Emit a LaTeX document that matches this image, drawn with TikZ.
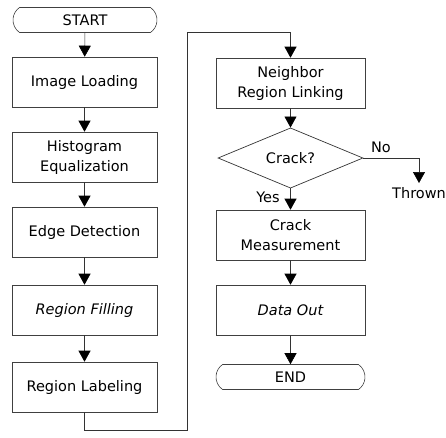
\documentclass[tikz,border=0pt]{standalone}
\usepackage{fontspec}
\setmainfont{DejaVu Sans}
\usetikzlibrary{arrows.meta,shapes.geometric,shapes.misc}
\begin{document}
\begin{tikzpicture}[x=1pt,y=-1pt,
  every node/.style={font=\fontsize{14.5}{20}\selectfont, inner sep=0pt, align=center},
  proc/.style={draw=black!75, line width=0.6pt, minimum width=145pt, minimum height=50pt},
  procr/.style={proc, minimum width=149pt},
  term/.style={draw=black!75, line width=0.6pt, rounded rectangle, rounded rectangle arc length=110, minimum height=25pt},
  dec/.style={draw=black!80, line width=0.7pt, diamond, minimum width=145pt, minimum height=50pt},
  flow/.style={draw=black!80, line width=0.6pt, -{Triangle[width=12pt,length=11pt,black]}},
  plain/.style={draw=black!80, line width=0.6pt}
]
\useasboundingbox (0,0) rectangle (446,437);
% left column
\node[term, minimum width=144pt] (start) at (85,20) {START};
\node[proc] (il) at (84.5,82) {Image Loading};
\node[proc] (he) at (84.5,157) {Histogram\\Equalization};
\node[proc] (ed) at (84.5,232) {Edge Detection};
\node[proc] (rf) at (84.5,310) {\itshape Region Filling};
\node[proc] (rl) at (84.5,387) {Region Labeling};
% right column
\node[procr] (nrl) at (290.5,83) {Neighbor\\Region Linking};
\node[dec] (crack) at (290.5,158) {Crack?};
\node[procr] (cm) at (290.5,235) {Crack\\Measurement};
\node[procr] (dout) at (290.5,310) {\itshape Data Out};
\node[term, minimum width=149pt] (end) at (290.5,377) {END};
\node[anchor=north] (thrown) at (419,187) {Thrown};
\node (nolab) at (381,147) {No};
\node (yeslab) at (268,197) {Yes};
\coordinate (l1) at (84.5,430);
\coordinate (l2) at (187,430);
\coordinate (l3) at (187,32);
\coordinate (l4) at (290.5,32);
\coordinate (nocorner) at (419,158);
\coordinate (notip) at (419,183);
% connectors
\draw[flow] (start) -- (il);
\draw[flow] (il) -- (he);
\draw[flow] (he) -- (ed);
\draw[flow] (ed) -- (rf);
\draw[flow] (rf) -- (rl);
\draw[flow] (rl.south) -- (l1) -- (l2) -- (l3) -- (l4) -- (nrl.north);
\draw[flow] (nrl) -- (crack);
\draw[flow] (crack.south) -- (cm.north);
\draw[flow] (crack.east) -- (nocorner) -- (notip);
\draw[flow] (cm) -- (dout);
\draw[flow] (dout) -- (end);
\end{tikzpicture}
\end{document}
